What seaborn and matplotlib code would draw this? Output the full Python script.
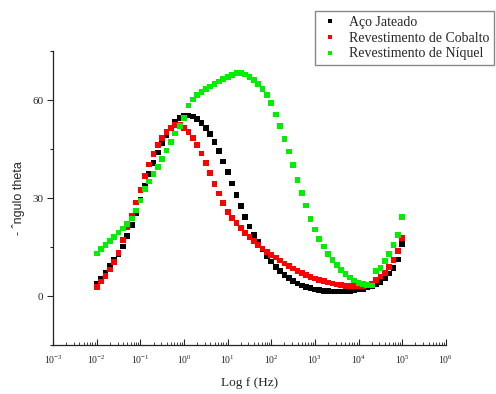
import numpy as np
import pandas as pd
import matplotlib
matplotlib.use("Agg")
import matplotlib.pyplot as plt
from matplotlib.ticker import LogLocator, LogFormatterMathtext, FixedLocator, NullFormatter
import seaborn as sns

# Frequency sweep: 10 points per decade from 10^-2 to 10^5 Hz
freq = 10 ** (np.arange(71) / 10 - 2)

series_names = ["Aço Jateado", "Revestimento de Cobalto", "Revestimento de Níquel"]
series_colors = ["#000000", "#ff0000", "#00ee00"]

theta_aco = [
    3.9, 5.4, 7.2, 9.2, 11.1, 12.9, 15.2, 18.4, 21.8, 25.4,
    29.5, 33.8, 37.4, 40.8, 44.0, 46.8, 49.3, 51.6, 53.3, 54.6,
    55.2, 55.3, 55.0, 54.2, 53.0, 51.5, 49.6, 47.2, 44.4, 41.2,
    38.0, 34.5, 31.0, 27.5, 24.2, 21.3, 18.8, 16.6, 14.4, 12.4,
    10.6, 9.0, 7.7, 6.5, 5.5, 4.6, 3.9, 3.3, 2.8, 2.4,
    2.0, 1.8, 1.6, 1.5, 1.4, 1.4, 1.4, 1.5, 1.6, 1.8,
    2.0, 2.3, 2.7, 3.1, 3.6, 4.4, 5.4, 6.9, 8.6, 11.2,
    16.0,
]
theta_cobalto = [
    2.9, 4.5, 6.2, 8.2, 10.4, 13.2, 17.2, 21.0, 24.6, 28.7,
    32.6, 36.8, 40.3, 43.6, 46.2, 48.5, 50.3, 51.6, 52.3, 52.5,
    51.5, 50.3, 48.4, 46.3, 43.7, 40.7, 37.6, 34.3, 31.4, 28.5,
    25.8, 23.9, 22.3, 20.8, 19.4, 18.1, 16.9, 15.7, 14.6, 13.6,
    12.7, 11.8, 10.9, 10.0, 9.2, 8.5, 7.8, 7.1, 6.5, 5.9,
    5.4, 5.0, 4.6, 4.2, 3.9, 3.6, 3.4, 3.2, 3.1, 3.0,
    3.0, 3.1, 3.3, 3.9, 4.9, 6.0, 7.2, 8.9, 11.0, 13.8,
    17.8,
]
theta_niquel = [
    13.1, 14.4, 15.7, 17.0, 18.2, 19.5, 20.7, 22.1, 23.8, 26.2,
    29.3, 32.8, 35.1, 37.3, 39.5, 42.0, 44.6, 47.2, 49.8, 52.2,
    54.5, 58.4, 60.2, 61.6, 62.5, 63.4, 64.2, 65.0, 65.7, 66.5,
    67.1, 67.8, 68.3, 68.3, 67.9, 67.1, 66.1, 64.9, 63.5, 61.6,
    59.2, 55.6, 52.0, 48.2, 44.3, 40.1, 35.6, 31.6, 27.8, 23.6,
    20.4, 17.5, 15.2, 13.0, 11.1, 9.5, 8.0, 6.7, 5.7, 4.8,
    4.1, 3.7, 3.4, 3.3, 7.6, 8.7, 10.8, 12.8, 15.6, 18.8,
    24.3,
]

df = pd.concat(
    [
        pd.DataFrame({"freq": freq, "theta": vals, "serie": name})
        for name, vals in zip(series_names, [theta_aco, theta_cobalto, theta_niquel])
    ],
    ignore_index=True,
)

sns.set_style("ticks")
plt.rcParams["font.family"] = ["Liberation Serif", "DejaVu Serif"]
plt.rcParams["mathtext.fontset"] = "stix"

fig = plt.figure(figsize=(4.96, 3.94), dpi=100)
ax = fig.add_axes([0.107, 0.124, 0.792, 0.746])

sns.scatterplot(
    data=df, x="freq", y="theta", hue="serie",
    hue_order=series_names, palette=series_colors,
    marker="s", s=17, linewidth=0, ax=ax, legend=True,
)

ax.set_xscale("log")
ax.set_xlim(1e-3, 1e6)
ax.set_ylim(-15, 75)

ax.xaxis.set_major_locator(LogLocator(base=10, numticks=20))
ax.xaxis.set_major_formatter(LogFormatterMathtext())
ax.xaxis.set_minor_locator(LogLocator(base=10, subs=np.arange(2, 10), numticks=20))
ax.xaxis.set_minor_formatter(NullFormatter())
ax.yaxis.set_major_locator(FixedLocator([0, 30, 60]))
ax.yaxis.set_minor_locator(FixedLocator([-15, 15, 45, 75]))

ax.tick_params(axis="x", which="major", direction="in", length=4, width=0.8,
               labelsize=7, pad=6)
ax.tick_params(axis="x", which="minor", direction="in", length=2.2, width=0.6)
ax.tick_params(axis="y", which="major", direction="out", length=4, width=0.8,
               labelsize=8, pad=3)
ax.tick_params(axis="y", which="minor", direction="out", length=2.2, width=0.8)

for side in ("top", "right"):
    ax.spines[side].set_visible(False)
for side in ("left", "bottom"):
    ax.spines[side].set_linewidth(0.9)
    ax.spines[side].set_color("#222222")

ax.set_xlabel("Log f (Hz)", fontsize=9.5, labelpad=8)
ax.set_ylabel("- \u02c6ngulo theta", fontsize=9, labelpad=5,
              family=["Liberation Sans", "DejaVu Sans"])

handles, labels = ax.get_legend_handles_labels()
ax.legend(
    handles, labels, loc="upper left",
    bbox_to_anchor=(315 / 496, 1 - 11 / 394), bbox_transform=fig.transFigure,
    borderaxespad=0, frameon=True, fancybox=False, edgecolor="#888888",
    framealpha=1, fontsize=10, markerscale=0.8, handletextpad=0.6,
    borderpad=0.35, labelspacing=0.2, handlelength=1.5,
)

fig.savefig("out.png", dpi=100)
